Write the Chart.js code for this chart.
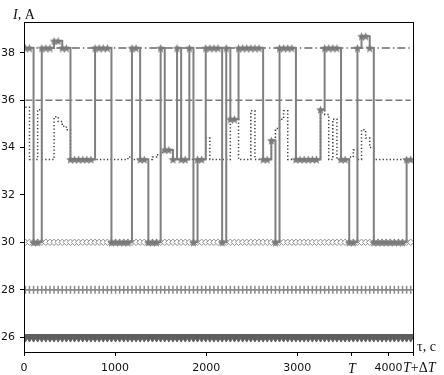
<!DOCTYPE html>
<html>
<head>
<meta charset="utf-8">
<script src="https://cdn.jsdelivr.net/npm/chart.js@4.4.1/dist/chart.umd.min.js"></script>
<style>
  html, body { margin: 0; padding: 0; background: #fff; }
  #wrap { width: 444px; height: 375px; }
</style>
</head>
<body>
<div id="wrap"><canvas id="chart"></canvas></div>
<script>
// sample times, s
const t = [
  15, 60, 105, 150, 195, 240, 285, 330, 375, 420,
  465, 510, 555, 600, 645, 690, 735, 780, 825, 870,
  915, 960, 1005, 1050, 1095, 1140, 1185, 1230, 1275, 1320,
  1365, 1410, 1455, 1500, 1545, 1590, 1635, 1680, 1725, 1770,
  1815, 1860, 1905, 1950, 1995, 2040, 2085, 2130, 2175, 2220,
  2265, 2310, 2355, 2400, 2445, 2490, 2535, 2580, 2625, 2670,
  2715, 2760, 2805, 2850, 2895, 2940, 2985, 3030, 3075, 3120,
  3165, 3210, 3255, 3300, 3345, 3390, 3435, 3480, 3525, 3570,
  3615, 3660, 3705, 3750, 3795, 3840, 3885, 3930, 3975, 4020,
  4065, 4110, 4155, 4200, 4245
];

// load current (stars), A
const I_load = [
  38.2, 38.2, 30, 30, 38.2, 38.2, 38.2, 38.5, 38.5, 38.2,
  38.2, 33.5, 33.5, 33.5, 33.5, 33.5, 33.5, 38.2, 38.2, 38.2,
  38.2, 30, 30, 30, 30, 30, 38.2, 38.2, 33.5, 33.5,
  30, 30, 30, 38.2, 33.9, 33.9, 33.5, 38.2, 33.5, 33.5,
  38.2, 30, 33.5, 33.5, 38.2, 38.2, 38.2, 38.2, 30, 38.2,
  35.2, 35.2, 38.2, 38.2, 38.2, 38.2, 38.2, 38.2, 33.5, 33.5,
  34.3, 30, 38.2, 38.2, 38.2, 38.2, 33.5, 33.5, 33.5, 33.5,
  33.5, 33.5, 35.6, 38.2, 38.2, 38.2, 38.2, 33.5, 33.5, 30,
  30, 38.2, 38.7, 38.7, 38.2, 30, 30, 30, 30, 30,
  30, 30, 30, 33.5, 33.5
];

// dotted curve, A
const I_aux = [
  35.7, 33.5, 33.5, 35.6, 33.5, 33.5, 33.5, 35.3, 35.1, 34.9,
  34.75, 33.5, 33.5, 33.5, 33.5, 33.5, 33.5, 33.5, 33.5, 33.5,
  33.5, 33.5, 33.5, 33.5, 33.5, 33.6, 33.5, 33.5, 33.5, 33.5,
  33.5, 33.6, 33.7, 33.8, 33.9, 33.9, 33.5, 33.5, 33.5, 33.5,
  33.5, 33.5, 33.5, 33.5, 34.4, 33.5, 33.5, 33.5, 33.5, 33.5,
  35.2, 35.2, 33.5, 33.5, 33.5, 35.55, 33.5, 33.5, 33.5, 33.5,
  34.3, 34.8, 35.2, 35.55, 33.5, 33.5, 33.5, 33.5, 33.5, 33.5,
  33.5, 33.5, 35.6, 35.4, 33.5, 35.2, 33.5, 33.5, 33.5, 33.6,
  33.9, 33.5, 34.75, 34.4, 34.0, 33.5, 33.5, 33.5, 33.5, 33.5,
  33.5, 33.5, 33.5, 33.5, 33.5
];

// constant levels, A
const I_max = 38.2;   // dash-dot
const I_nom = 36;     // dashed
const I_diam = 30;    // diamonds
const I_plus = 28;    // pluses
const I_tri = 26;     // triangles

const T = 3600;
const dT = 670;
const xTicks = [0, 1000, 2000, 3000, T, 4000, T + dT];
const yTicks = [26, 28, 30, 32, 34, 36, 38];

const pts = (ys) => t.map((x, i) => ({ x: x, y: ys[i] }));
const flat = (v) => t.map((x) => ({ x: x, y: v }));
const ends = (v) => [{ x: t[0], y: v }, { x: t[t.length - 1], y: v }];

function starImage(size, color) {
  const c = document.createElement('canvas');
  c.width = c.height = size;
  const g = c.getContext('2d');
  const r = size / 2, ri = r * 0.45;
  g.beginPath();
  for (let i = 0; i < 10; i++) {
    const rad = i % 2 ? ri : r;
    const a = -Math.PI / 2 + i * Math.PI / 5;
    g.lineTo(r + rad * Math.cos(a), r + 0.5 + rad * Math.sin(a));
  }
  g.closePath();
  g.fillStyle = color;
  g.fill();
  return c;
}

const serif = '"Liberation Serif", "DejaVu Serif", serif';

// frame + axis captions
const extras = {
  id: 'extras',
  afterDraw(chart) {
    const { ctx, chartArea: a, scales: { x } } = chart;
    ctx.save();
    ctx.strokeStyle = '#000';
    ctx.lineWidth = 1;
    ctx.strokeRect(Math.round(a.left) + 0.5, Math.round(a.top) + 0.5,
      Math.round(a.right - a.left), Math.round(a.bottom - a.top));

    ctx.fillStyle = '#111';
    ctx.textBaseline = 'alphabetic';
    ctx.textAlign = 'left';
    const parts = (list, px, py) => {
      for (const [s, it] of list) {
        ctx.font = (it ? 'italic ' : '') + '14px ' + serif;
        ctx.fillText(s, px, py);
        px += ctx.measureText(s).width;
      }
    };
    parts([['I', true], [', A', false]], 13, 19);
    parts([['τ, c', false]], a.right + 4, a.bottom - 1);
    parts([['T', true], ['+Δ', false], ['T', true]], x.getPixelForValue(T + dT) - 10, 372);
    ctx.restore();
  }
};

new Chart(document.getElementById('chart'), {
  type: 'line',
  data: {
    datasets: [
      {
        data: pts(I_load), stepped: true, order: 1,
        borderColor: '#808080', borderWidth: 2,
        pointStyle: starImage(9, '#7a7a7a'), pointRadius: 4
      },
      {
        data: pts(I_aux), stepped: true, order: 2,
        borderColor: '#3c3c3c', borderWidth: 1.5, borderDash: [1.3, 2.2],
        pointRadius: 0
      },
      {
        data: ends(I_max), order: 3,
        borderColor: '#6a6a6a', borderWidth: 1.5, borderDash: [8, 3, 1.5, 3],
        pointRadius: 0
      },
      {
        data: ends(I_nom), order: 4,
        borderColor: '#7a7a7a', borderWidth: 1.5, borderDash: [7, 3],
        pointRadius: 0
      },
      {
        data: flat(I_tri), order: 5,
        borderColor: '#5e5e5e', borderWidth: 1,
        pointStyle: 'triangle', rotation: 180, pointRadius: 5,
        pointBackgroundColor: '#5e5e5e', pointBorderColor: '#5e5e5e', pointBorderWidth: 1
      },
      {
        data: flat(I_plus), order: 6,
        borderColor: '#8a8a8a', borderWidth: 1,
        pointStyle: 'cross', pointRadius: 4,
        pointBorderColor: '#8a8a8a', pointBorderWidth: 1.5
      },
      {
        data: flat(I_diam), order: 7,
        borderColor: '#999', borderWidth: 1,
        pointStyle: 'rectRot', pointRadius: 3.2,
        pointBackgroundColor: '#fff', pointBorderColor: '#8e8e8e', pointBorderWidth: 1
      }
    ]
  },
  options: {
    responsive: true,
    maintainAspectRatio: false,
    animation: false,
    layout: { padding: { left: 0, right: 31, top: 22, bottom: 0 } },
    plugins: { legend: { display: false }, tooltip: { enabled: false } },
    scales: {
      x: {
        type: 'linear', min: 0, max: T + dT,
        afterBuildTicks: (s) => { s.ticks = xTicks.map((v) => ({ value: v })); },
        afterFit: (s) => { s.height = 23; },
        grid: { drawOnChartArea: false, tickLength: 4, color: '#000' },
        border: { color: '#000' },
        ticks: {
          autoSkip: false, maxRotation: 0, padding: 6, color: '#111',
          font: (c) => c.tick && c.tick.value === T
            ? { family: serif, style: 'italic', size: 14, lineHeight: 1 }
            : { family: 'DejaVu Sans', size: 11, lineHeight: 1.2 },
          callback: (v) => v === T ? 'T' : (v === T + dT ? '' : String(v))
        }
      },
      y: {
        min: 25.37, max: 39.3,
        afterBuildTicks: (s) => { s.ticks = yTicks.map((v) => ({ value: v })); },
        afterFit: (s) => { s.width = 24; },
        grid: { drawOnChartArea: false, tickLength: 4, color: '#000' },
        border: { color: '#000' },
        ticks: { padding: 5, color: '#111', font: { family: 'DejaVu Sans', size: 11 } }
      }
    }
  },
  plugins: [extras]
});
</script>
</body>
</html>
